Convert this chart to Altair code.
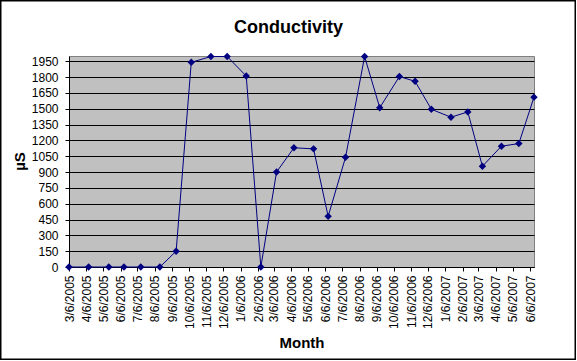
import altair as alt
import pandas as pd

# Sampling dates (m/d/yyyy) and conductivity (µS)
dates = [
    "2005-03-06", "2005-04-10", "2005-05-16", "2005-06-12", "2005-07-12",
    "2005-08-15", "2005-09-13", "2005-10-10", "2005-11-14", "2005-12-13",
    "2006-01-16", "2006-02-11", "2006-03-11", "2006-04-11", "2006-05-16",
    "2006-06-11", "2006-07-12", "2006-08-15", "2006-09-11", "2006-10-16",
    "2006-11-13", "2006-12-12", "2007-01-16", "2007-02-15", "2007-03-13",
    "2007-04-16", "2007-05-17", "2007-06-13",
]
conductivity = [
    0, 0, 0, 0, 0,
    0, 150, 1940, 1995, 1995,
    1810, 0, 900, 1130, 1120,
    480, 1040, 1995, 1510, 1805,
    1760, 1495, 1420, 1470, 955,
    1145, 1170, 1610,
]
# Monthly tick marks on the 6th (year, month)
tick_months = [(2005, m) for m in range(3, 13)] + [(2006, m) for m in range(1, 13)] + [(2007, m) for m in range(1, 7)]
y_ticks = list(range(0, 2000, 150))
chart_title = ["Conductivity"]

df = pd.DataFrame({"date": [d + "T00:00:00" for d in dates], "value": conductivity})

FONT = "Liberation Sans"

x_enc = alt.X(
    "date:T",
    scale=alt.Scale(domain=[alt.DateTime(year=2005, month=3, date=6),
                            alt.DateTime(year=2007, month=6, date=13)], nice=False),
    axis=alt.Axis(
        values=[alt.DateTime(year=y, month=m, date=6) for y, m in tick_months],
        format="%-m/%-d/%Y",
        labelAngle=270,
        labelAlign="right",
        labelBaseline="middle",
        labelFontSize=12,
        labelFont=FONT,
        labelColor="black",
        labelPadding=4,
        labelOverlap=False,
        labelFlush=False,
        tickSize=4,
        tickColor="black",
        domainColor="black",
        grid=False,
        title="Month",
        titleFont=FONT,
        titleFontSize=15,
        titleFontWeight="bold",
        titleColor="black",
        titleY=80,
        titleBaseline="alphabetic",
    ),
)
y_enc = alt.Y(
    "value:Q",
    scale=alt.Scale(domain=[0, 2000], nice=False),
    axis=alt.Axis(
        values=y_ticks,
        format="d",
        labelFontSize=12,
        labelFont=FONT,
        labelColor="black",
        labelPadding=7,
        tickSize=4,
        tickColor="black",
        domainColor="black",
        grid=True,
        gridColor="black",
        gridWidth=1,
        title="µS",
        titleFont=FONT,
        titleFontSize=15,
        titleFontWeight="bold",
        titleColor="black",
        titleAngle=270,
        titleX=-50,
        titleY=105,
        titleAlign="center",
        titleBaseline="middle",
    ),
)

base = alt.Chart(df)
line = base.mark_line(color="#000080", strokeWidth=1).encode(x=x_enc, y=y_enc)
pts = base.mark_point(shape="diamond", filled=True, size=55, color="#000080", opacity=1).encode(x=x_enc, y=y_enc)

border = alt.Chart(pd.DataFrame({"a": [0]})).mark_rect(
    fill=None, stroke="black", strokeWidth=1.5
).encode(
    x=alt.value(-68.25), x2=alt.value(506.25), y=alt.value(-55.25), y2=alt.value(303.25)
)

title = alt.Chart(pd.DataFrame({"t": chart_title})).mark_text(
    font=FONT, fontSize=18, fontWeight="bold", color="black",
    align="center", baseline="alphabetic",
).encode(text="t:N", x=alt.value(219.5), y=alt.value(-23))

chart = alt.layer(line, pts, border, title).properties(
    width=465,
    height=211,
    autosize=alt.AutoSizeParams(type="none"),
    padding={"left": 69, "top": 56, "right": 43, "bottom": 94},
).configure(background="white").configure_view(
    fill="#C0C0C0", stroke="#808080", strokeWidth=1
)

chart.save("out.html", embed_options={"renderer": "svg", "actions": False})
